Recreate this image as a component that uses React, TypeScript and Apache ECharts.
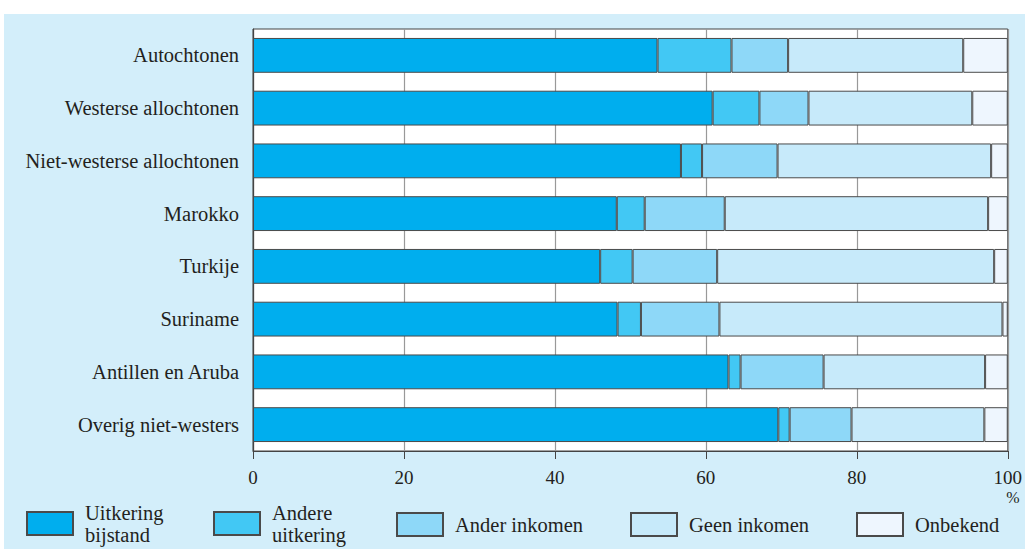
import React, { useEffect, useRef, useState } from "react";
import * as echarts from "echarts";

const categories = [
  "Autochtonen",
  "Westerse allochtonen",
  "Niet-westerse allochtonen",
  "Marokko",
  "Turkije",
  "Suriname",
  "Antillen en Aruba",
  "Overig niet-westers",
];

const seriesNames = [
  "Uitkering bijstand",
  "Andere uitkering",
  "Ander inkomen",
  "Geen inkomen",
  "Onbekend",
];

const uitkeringBijstand = [53.6, 60.9, 56.7, 48.2, 46.0, 48.3, 63.0, 69.6];
const andereUitkering = [9.8, 6.2, 2.8, 3.7, 4.3, 3.1, 1.6, 1.5];
const anderInkomen = [7.5, 6.5, 10.0, 10.6, 11.2, 10.4, 11.0, 8.2];
const geenInkomen = [23.2, 21.7, 28.3, 34.9, 36.7, 37.5, 21.4, 17.6];
const onbekend = [5.9, 4.7, 2.2, 2.6, 1.8, 0.7, 3.0, 3.1];

const xTicks = [0, 20, 40, 60, 80, 100];

const colors = ["#00AEEE", "#42C8F4", "#8ED8F8", "#C7EAFA", "#EEF6FE"];
const legendLabels: Record<string, string> = {
  "Uitkering bijstand": "Uitkering\nbijstand",
  "Andere uitkering": "Andere\nuitkering",
  "Ander inkomen": "Ander inkomen",
  "Geen inkomen": "Geen inkomen",
  Onbekend: "Onbekend",
};
const legendLeft = [26, 213, 396, 630, 856];

const FONT = "'Liberation Serif', 'DejaVu Serif', serif";
const TEXT = "#231F20";

export default function App() {
  const ref = useRef<HTMLDivElement>(null);
  const [size] = useState(() => {
    document.body.style.margin = "0";
    document.body.style.overflow = "hidden";
    document.documentElement.style.overflow = "hidden";
    const w = window.innerWidth || 1025;
    const h = window.innerHeight || 549;
    return { w, h };
  });
  useEffect(() => {
    if (!ref.current) return;
    const sx = size.w / 1025;
    const sy = size.h / 549;
    const s = sx;
    const chart = echarts.init(ref.current, undefined, { renderer: "svg" });
    const values = [uitkeringBijstand, andereUitkering, anderInkomen, geenInkomen, onbekend];
    chart.setOption({
      animation: false,
      backgroundColor: "#ffffff",
      textStyle: { fontFamily: FONT, color: TEXT },
      graphic: [
        {
          type: "rect",
          z: -100,
          shape: { x: 4 * sx, y: 14 * sy, width: 1100 * sx, height: 600 * sy },
          style: { fill: "#D3EEFA" },
          silent: true,
        },
        {
          type: "text",
          x: 1013 * sx,
          y: 497 * sy,
          style: {
            text: "%",
            fontFamily: FONT,
            fontSize: 16 * s,
            fill: TEXT,
            textAlign: "center",
            textVerticalAlign: "middle",
          },
        },
      ],
      grid: {
        left: 253 * sx,
        width: 760 * sx,
        top: 29 * sy,
        height: 422 * sy,
        show: true,
        backgroundColor: "#ffffff",
        borderColor: "#444",
        borderWidth: 1,
      },
      legend: seriesNames.map((name, i) => {
        const twoLine = legendLabels[name].includes("\n");
        return {
          data: [name],
          left: legendLeft[i] * sx,
          top: (twoLine ? 501.5 : 512) * sy,
          padding: 0,
          itemWidth: 46 * sx,
          itemHeight: 23 * sy,
          itemGap: 15,
          icon: "rect",
          selectedMode: false,
          formatter: (n: string) => legendLabels[n],
          textStyle: {
            fontFamily: FONT,
            fontSize: 20.5 * s,
            color: TEXT,
            lineHeight: 22 * s,
            padding: [0, 0, 0, 7 * s],
          },
        };
      }),
      xAxis: {
        type: "value",
        min: 0,
        max: 100,
        interval: 20,
        axisLine: { show: true, lineStyle: { color: "#444", width: 1 } },
        axisTick: { show: true, length: 8 * sy, lineStyle: { color: "#444" } },
        splitLine: { show: true, lineStyle: { color: "#999", width: 1.2 } },
        axisLabel: {
          fontFamily: FONT,
          fontSize: 19 * s,
          color: TEXT,
          margin: 17 * sy,
          formatter: (v: number) => (xTicks.includes(v) ? String(v) : ""),
        },
      },
      yAxis: {
        type: "category",
        data: categories,
        inverse: true,
        axisLine: { show: true, lineStyle: { color: "#444", width: 1.2 } },
        axisTick: { show: false },
        axisLabel: {
          fontFamily: FONT,
          fontSize: 20.5 * s,
          color: TEXT,
          margin: 14 * sx,
        },
      },
      series: seriesNames.map((name, i) => ({
        name,
        type: "bar",
        stack: "total",
        barWidth: "66%",
        data: values[i],
        itemStyle: { color: colors[i], borderColor: "#4a4a4a", borderWidth: 1 },
      })),
    });
    return () => chart.dispose();
  }, [size]);
  return (
    <div
      ref={ref}
      style={{ position: "absolute", left: 0, top: 0, width: size.w, height: size.h }}
    />
  );
}
